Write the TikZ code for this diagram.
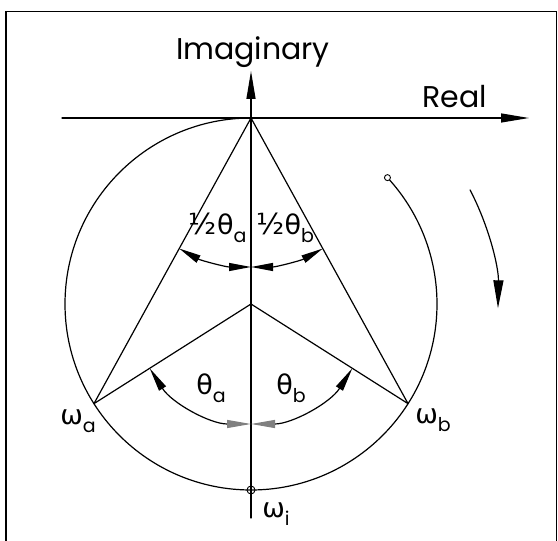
\documentclass[tikz,border=0pt]{standalone}
\usepackage{fontspec}
\setmainfont{Poppins}
\newfontfamily\grk{DejaVu Sans}
\usetikzlibrary{arrows.meta}
\newcommand{\sbx}[1]{\raisebox{-0.28em}{\fontsize{19}{20}\selectfont #1}}
\newcommand{\hlf}{{\grk\fontsize{29}{30}\selectfont ½}}
\begin{document}
\begin{tikzpicture}[x=1pt,y=1pt,line width=1.2pt,line cap=round,
  lbl/.style={inner sep=0pt,font=\fontsize{27}{30}\selectfont},
  axisarrow/.style={-{Triangle[length=28pt,width=9pt]}},
  dbl/.style={{Triangle[length=22pt,width=8pt]}-{Triangle[length=22pt,width=8pt]}},
  dblg/.style={{Triangle[length=24pt,width=8pt]}-{Triangle[length=24pt,width=8pt,color=gray]}},
  dblgr/.style={{Triangle[length=24pt,width=8pt,color=gray]}-{Triangle[length=24pt,width=8pt]}},
  rotarrow/.style={-{Triangle[length=28pt,width=10pt]}},
  frame/.style={line width=1.2pt}]
\useasboundingbox (0,0) rectangle (558,541);
% frame
\draw[frame] (6,0) -- (6,529.5) -- (556.5,529.5) -- (556.5,0);
% key points
\coordinate (C) at (251,237);
\coordinate (O) at (251,423);
\coordinate (A) at ([shift={(212.4:186)}]C);
\coordinate (B) at ([shift={(-32.4:186)}]C);
% axes
\coordinate (Rs) at (62,423);
\coordinate (Re) at (529,423);
\coordinate (Is) at (251,23);
\coordinate (Ie) at (251,470);
\draw[axisarrow] (Rs) -- (Re);
\draw[axisarrow] (Is) -- (Ie);
\node[lbl,font=\fontsize{30}{32}\selectfont] (imag) at (253,489) {Imaginary};
\node[lbl,font=\fontsize{30}{32}\selectfont] (real) at (455,444) {Real};
% main circle (open between marker and top)
\draw (O) arc[start angle=90,end angle=402.8,radius=186];
\node[circle,draw,line width=0.9pt,inner sep=0pt,minimum size=6pt,fill=white] (M) at ([shift={(42.8:186)}]C) {};
\node[circle,draw,line width=0.9pt,inner sep=0pt,minimum size=8pt] (I) at (251,51) {};
% chords and radii
\draw (O) -- (A);
\draw (O) -- (B);
\draw (C) -- (A);
\draw (C) -- (B);
% half angle arcs at O
\draw[dbl] ([shift={(241.2:149)}]O) arc[start angle=241.2,end angle=270,radius=149];
\draw[dbl] ([shift={(270:149)}]O) arc[start angle=270,end angle=298.8,radius=149];
% central angle arcs at C
\draw[dblg] ([shift={(212.4:120)}]C) arc[start angle=212.4,end angle=270,radius=120];
\draw[dblgr] ([shift={(270:120)}]C) arc[start angle=270,end angle=327.6,radius=120];
% rotation arrow
\draw[rotarrow] ([shift={(27.5:247)}]C) arc[start angle=27.5,end angle=-1,radius=247];
% labels
\node[lbl,anchor=east] (hta) at (247,313) {\hlf{\grk θ}\sbx{a}};
\node[lbl,anchor=west] (htb) at (256,313) {\hlf{\grk θ}\sbx{b}};
\node[lbl] (ta) at (211,153) {{\grk θ}\sbx{a}};
\node[lbl] (tb) at (291,153) {{\grk θ}\sbx{b}};
\node[lbl] (wa) at (78,120) {{\grk ω}\sbx{a}};
\node[lbl] (wb) at (433,121) {{\grk ω}\sbx{b}};
\node[lbl] (wi) at (276,27) {{\grk ω}\sbx{i}};
\end{tikzpicture}
\end{document}
